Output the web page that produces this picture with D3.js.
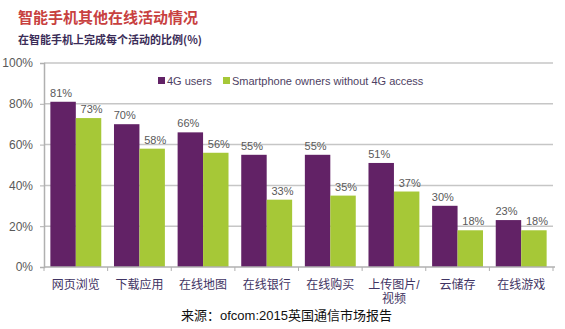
<!DOCTYPE html>
<html><head><meta charset="utf-8">
<script src="https://cdn.jsdelivr.net/npm/d3@7"></script>
<style>body{margin:0;background:#fff;}svg{display:block;font-family:"Noto Sans CJK SC","Liberation Sans",Arial,sans-serif;}</style>
</head><body><svg id="c" width="565" height="329"></svg>
<script>
const categories = ["网页浏览","下载应用","在线地图","在线银行","在线购买","上传图片/视频","云储存","在线游戏"];
const seriesNames = ["4G users","Smartphone owners without 4G access"];
const users4G = [81,70,66,55,55,51,30,23];
const no4G = [73,58,56,33,35,37,18,18];
const yTicks = [0,20,40,60,80,100];
const colors = ["#622266","#a6c837"];

const svg = d3.select("#c");
const m = {l:44, r:553, t:63, b:267};
const x = d3.scaleBand().domain(categories).range([m.l, m.r]).paddingInner(0).paddingOuter(0);
const x1 = d3.scaleBand().domain([0,1]).range([0, x.bandwidth()]).paddingOuter(0.25).paddingInner(0);
const y = d3.scaleLinear().domain([0,100]).range([m.b, m.t]);
const labelFont = "'Liberation Sans', 'Noto Sans CJK SC', sans-serif";

// title
svg.append("text").attr("x",18).attr("y",23).attr("fill","#c8413f").attr("font-size",15).attr("font-weight","bold").text("智能手机其他在线活动情况");
svg.append("text").attr("x",18).attr("y",44).attr("fill","#3b2d58").attr("font-size",11).attr("font-weight","bold").text("在智能手机上完成每个活动的比例(%)");

// gridlines
svg.append("g").selectAll("line").data(yTicks.filter(d=>d>0)).join("line")
  .attr("x1",m.l).attr("x2",m.r).attr("y1",d=>y(d)).attr("y2",d=>y(d))
  .attr("stroke","#c6c6c6").attr("stroke-width",1.5);

// y axis
const ya = svg.append("g").attr("transform",`translate(${m.l},0)`)
  .call(d3.axisLeft(y).tickValues(yTicks).tickFormat(d=>d+"%").tickSize(4).tickPadding(7));
ya.select(".domain").attr("stroke","#b0b0b0").attr("stroke-width",1.5);
ya.selectAll(".tick line").attr("stroke","#b0b0b0");
ya.selectAll("text").attr("fill","#595959").attr("font-size",12).attr("font-family","Liberation Sans, Arial, sans-serif");

// bars
const series = [users4G, no4G];
series.forEach((vals,si)=>{
  svg.append("g").selectAll("rect").data(vals).join("rect")
    .attr("x",(d,i)=>x(categories[i])+x1(si))
    .attr("width",x1.bandwidth())
    .attr("y",d=>y(d)).attr("height",d=>y(0)-y(d))
    .attr("fill",colors[si]);
  svg.append("g").selectAll("text").data(vals).join("text")
    .attr("x",(d,i)=>x(categories[i])+x1(si)+x1.bandwidth()/2 + (si===1?3:-2))
    .attr("y",d=>y(d)-5)
    .attr("text-anchor","middle").attr("fill","#595959").attr("font-size",11)
    .attr("font-family","Liberation Sans, Arial, sans-serif")
    .text(d=>d+"%");
});

// x axis
const xa = svg.append("g").attr("transform",`translate(0,${m.b})`);
xa.append("line").attr("x1",m.l).attr("x2",m.r+2).attr("y1",0).attr("y2",0).attr("stroke","#b0b0b0").attr("stroke-width",1.5);
xa.selectAll("line.t").data(d3.range(categories.length+1)).join("line").attr("class","t")
  .attr("x1",i=>m.l+i*x.step()).attr("x2",i=>m.l+i*x.step()).attr("y1",0).attr("y2",4).attr("stroke","#b0b0b0");
categories.forEach(c=>{
  const cx = x(c)+x.bandwidth()/2;
  const parts = c.split("/");
  const add = (txt, yy) => xa.append("text").attr("x",cx).attr("y",yy).attr("text-anchor","middle")
    .attr("fill","#3f3463").attr("font-size",12).attr("font-family",labelFont).text(txt);
  if(parts.length>1){ add(parts[0]+"/",22); add(parts[1],36); }
  else add(c,22);
});

// legend
const lg = svg.append("g");
const lx = [158, 223];
seriesNames.forEach((n,i)=>{
  lg.append("rect").attr("x",lx[i]).attr("y",77).attr("width",7).attr("height",7).attr("fill",colors[i]);
  lg.append("text").attr("x",lx[i]+9).attr("y",85).attr("fill","#4e3f63").attr("font-size",11)
    .attr("font-family","Liberation Sans, Arial, sans-serif").text(n);
});

// source
svg.append("text").attr("x",181).attr("y",320).attr("fill","#111").attr("font-size",13).attr("font-family",labelFont).text("来源：ofcom:2015英国通信市场报告");
</script></body></html>
